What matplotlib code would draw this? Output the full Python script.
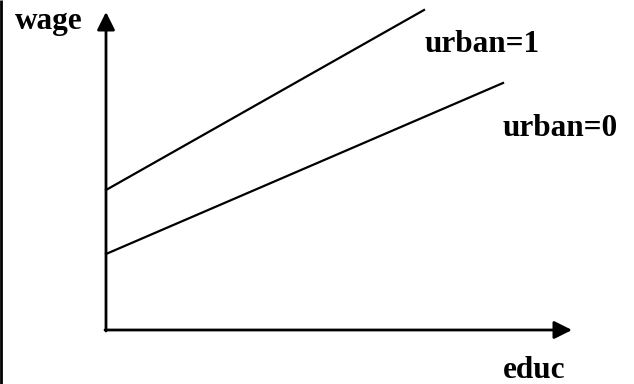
import matplotlib
matplotlib.use("Agg")
import matplotlib.pyplot as plt

# wage lines by urban status, in axis units (origin at the axes corner)
urban1_educ = [0, 318]
urban1_wage = [140, 320]
urban0_educ = [0, 397]
urban0_wage = [76, 247]

x_axis_end = 466
y_axis_end = 318

plt.rcParams['font.family'] = ['Liberation Serif', 'DejaVu Serif']

fig = plt.figure(figsize=(6.34, 3.84), dpi=100)
ax = fig.add_axes([0, 0, 1, 1])
ax.set_xlim(-106, 528)
ax.set_ylim(-54, 330)
ax.axis('off')

# frame line on the left edge
ax.plot([-105, -105], [-54, 330], color='black', lw=2, solid_capstyle='butt')

arrow = dict(arrowstyle='-|>,head_length=0.54,head_width=0.27', mutation_scale=20,
             lw=2, color='black', shrinkA=0, shrinkB=0)
ax.annotate('', xy=(0, y_axis_end), xytext=(0, -1), arrowprops=arrow)
ax.annotate('', xy=(x_axis_end, 0), xytext=(-1, 0), arrowprops=arrow)

ax.plot(urban1_educ, urban1_wage, color='black', lw=1.6)
ax.plot(urban0_educ, urban0_wage, color='black', lw=1.6)

style = dict(fontsize=22.5, fontweight='bold', color='black')
ax.text(-91, 308, 'wage', ha='left', va='center', **style)
ax.text(319, 286, 'urban=1', ha='left', va='center', **style)
ax.text(397, 201, 'urban=0', ha='left', va='center', **style)
ax.text(397, -40, 'educ', ha='left', va='center', **style)

fig.savefig('out.png', dpi=100)
